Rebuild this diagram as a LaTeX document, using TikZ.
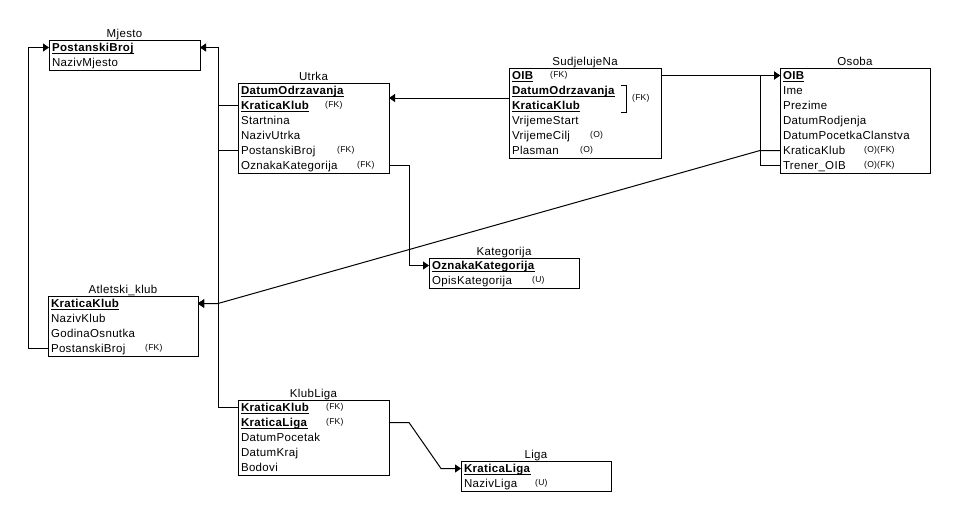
\documentclass[tikz,border=0pt]{standalone}
\usepackage{fontspec}
\setmainfont{Liberation Sans}[LetterSpace=3]
\usetikzlibrary{arrows.meta,calc}

% primary-key field: bold with a rule just under the baseline
\newsavebox\pkbox
\newcommand\pkey[1]{\sbox\pkbox{\textbf{#1}}\rlap{\rule[-2.2pt]{\wd\pkbox}{0.9pt}}\usebox\pkbox}

\begin{document}
\begin{tikzpicture}[x=1pt,y=-1pt,
  tbl/.style n args={2}{draw, line width=1pt, anchor=north west, inner sep=0pt,
    outer sep=0pt, minimum width=#1, minimum height=#2},
  ttl/.style={anchor=base, inner sep=0pt, yshift=2.5pt, font=\fontsize{11.5}{13}\selectfont},
  row/.style={anchor=north west, inner xsep=3pt, inner ysep=0pt, outer sep=0pt,
    minimum height=15pt, text height=10pt, text depth=2pt, text width=#1-6pt,
    align=left, font=\fontsize{11.5}{13}\selectfont},
  tag/.style={anchor=west, inner sep=0pt, font=\fontsize{8.5}{10}\selectfont},
  cn/.style={line width=1pt, black},
  fk/.style={cn, -{Triangle[length=6pt,width=8pt]}}]

\fill[white] (0,0) rectangle (956,517);
\useasboundingbox (0,0) rectangle (956,517);

% ---------- Mjesto ----------
\node[tbl={151pt}{30pt}] (mj) at (49,40) {};
\node[ttl] at (mj.north) {Mjesto};
\node[row=151pt] (mj-pb) at (49,40) {\pkey{PostanskiBroj}};
\node[row=151pt] (mj-nm) at (49,55) {NazivMjesto};

% ---------- Utrka ----------
\node[tbl={151pt}{90pt}] (ut) at (238,83) {};
\node[ttl] at (ut.north) {Utrka};
\node[row=151pt] (ut-do) at (238,83)  {\pkey{DatumOdrzavanja}};
\node[row=151pt] (ut-kk) at (238,98)  {\pkey{KraticaKlub}};
\node[row=151pt] (ut-st) at (238,113) {Startnina};
\node[row=151pt] (ut-nu) at (238,128) {NazivUtrka};
\node[row=151pt] (ut-pb) at (238,143) {PostanskiBroj};
\node[row=151pt] (ut-ok) at (238,158) {OznakaKategorija};
\node[tag] at ([xshift=87pt]ut-kk.west) {(FK)};
\node[tag] at ([xshift=99pt]ut-pb.west) {(FK)};
\node[tag] at ([xshift=119pt]ut-ok.west) {(FK)};

% ---------- SudjelujeNa ----------
\node[tbl={152pt}{90pt}] (sn) at (509,68) {};
\node[ttl] at (sn.north) {SudjelujeNa};
\node[row=152pt] (sn-oib) at (509,68)  {\pkey{OIB}};
\node[row=152pt] (sn-do)  at (509,83)  {\pkey{DatumOdrzavanja}};
\node[row=152pt] (sn-kk)  at (509,98)  {\pkey{KraticaKlub}};
\node[row=152pt] (sn-vs)  at (509,113) {VrijemeStart};
\node[row=152pt] (sn-vc)  at (509,128) {VrijemeCilj};
\node[row=152pt] (sn-pl)  at (509,143) {Plasman};
\node[tag] at ([xshift=41pt]sn-oib.west) {(FK)};
\node[tag] at ([xshift=81pt]sn-vc.west) {(O)};
\node[tag] at ([xshift=71pt]sn-pl.west) {(O)};
\draw[line width=1pt] (621,85) -- (626,85) -- (626,112) -- (621,112);
\node[tag] (sn-fk) at (632,98) {(FK)};

% ---------- Osoba ----------
\node[tbl={150pt}{105pt}] (os) at (780,68) {};
\node[ttl] at (os.north) {Osoba};
\node[row=150pt] (os-oib) at (780,68)  {\pkey{OIB}};
\node[row=150pt] (os-im)  at (780,83)  {Ime};
\node[row=150pt] (os-pr)  at (780,98)  {Prezime};
\node[row=150pt] (os-dr)  at (780,113) {DatumRodjenja};
\node[row=150pt] (os-dc)  at (780,128) {DatumPocetkaClanstva};
\node[row=150pt] (os-kk)  at (780,143) {KraticaKlub};
\node[row=150pt] (os-tr)  at (780,158) {Trener\_OIB};
\node[tag] at ([xshift=84pt]os-kk.west) {(O)(FK)};
\node[tag] at ([xshift=84pt]os-tr.west) {(O)(FK)};

% ---------- Kategorija ----------
\node[tbl={150pt}{30pt}] (ka) at (429,258) {};
\node[ttl] at (ka.north) {Kategorija};
\node[row=150pt] (ka-ok) at (429,258) {\pkey{OznakaKategorija}};
\node[row=150pt] (ka-op) at (429,273) {OpisKategorija};
\node[tag] at ([xshift=103pt]ka-op.west) {(U)};

% ---------- Atletski_klub ----------
\node[tbl={150pt}{60pt}] (ak) at (48,296) {};
\node[ttl] at (ak.north) {Atletski\_klub};
\node[row=150pt] (ak-kk) at (48,296) {\pkey{KraticaKlub}};
\node[row=150pt] (ak-nk) at (48,311) {NazivKlub};
\node[row=150pt] (ak-go) at (48,326) {GodinaOsnutka};
\node[row=150pt] (ak-pb) at (48,341) {PostanskiBroj};
\node[tag] at ([xshift=97pt]ak-pb.west) {(FK)};

% ---------- KlubLiga ----------
\node[tbl={151pt}{75pt}] (kl) at (238,400) {};
\node[ttl] at (kl.north) {KlubLiga};
\node[row=151pt] (kl-kk) at (238,400) {\pkey{KraticaKlub}};
\node[row=151pt] (kl-kl) at (238,415) {\pkey{KraticaLiga}};
\node[row=151pt] (kl-dp) at (238,430) {DatumPocetak};
\node[row=151pt] (kl-dk) at (238,445) {DatumKraj};
\node[row=151pt] (kl-bo) at (238,460) {Bodovi};
\node[tag] at ([xshift=88pt]kl-kk.west) {(FK)};
\node[tag] at ([xshift=88pt]kl-kl.west) {(FK)};

% ---------- Liga ----------
\node[tbl={150pt}{30pt}] (li) at (461,461) {};
\node[ttl] at (li.north) {Liga};
\node[row=150pt] (li-kl) at (461,461) {\pkey{KraticaLiga}};
\node[row=150pt] (li-nl) at (461,476) {NazivLiga};
\node[tag] at ([xshift=74pt]li-nl.west) {(U)};

% ---------- foreign-key connectors ----------
\draw[fk] (ak-pb.west) -- ++(-20,0) |- (mj-pb.west);
\draw[fk] (ut-pb.west) -- ++(-20,0) |- (mj-pb.east);
\draw[fk] (ut-kk.west) -- ++(-20,0) |- (ak-kk.east);
\draw[fk] (kl-kk.west) -- ++(-20,0) |- (ak-kk.east);
\draw[fk] (os-kk.west) -- ++(-20,0) -- ($(ak-kk.east)+(20,0)$) -- (ak-kk.east);
\draw[fk] (sn.west |- sn-fk) -- (ut.east |- sn-fk);
\draw[fk] (sn-oib.east) -- (os-oib.west);
\draw[fk] (os-tr.west) -- ++(-20,0) |- (os-oib.west);
\draw[fk] (ut-ok.east) -- ++(20,0) |- (ka-ok.west);
\draw[fk] (kl-kl.east) -- ++(20,0) -- ($(li-kl.west)+(-20,0)$) -- (li-kl.west);

\end{tikzpicture}
\end{document}
